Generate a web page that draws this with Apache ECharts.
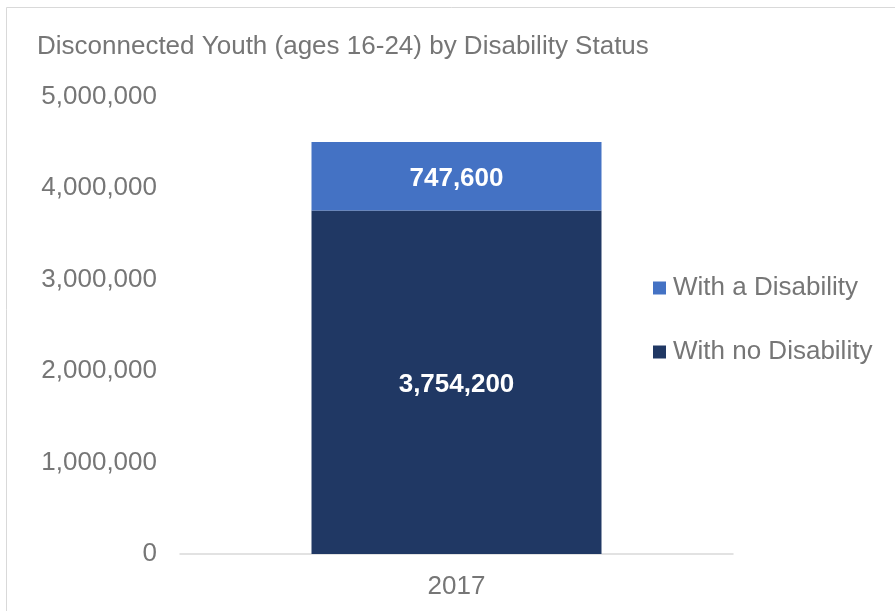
<!DOCTYPE html>
<html>
<head>
<meta charset="utf-8">
<script src="https://cdn.jsdelivr.net/npm/echarts@6/dist/echarts.min.js"></script>
<style>html,body{margin:0;padding:0;background:#fff}#c{width:895px;height:611px}</style>
</head>
<body>
<div id="c"></div>
<script>
var titleText = "Disconnected Youth (ages 16-24) by Disability Status";
var categories = ["2017"];
var withNoDisability = [3754200];
var withDisability = [747600];
var seriesNames = ["With no Disability", "With a Disability"];

var chart = echarts.init(document.getElementById('c'));
var gray = '#767676';
var font = 'Liberation Sans, Arial, sans-serif';
function fmt(p) { return p.value.toLocaleString('en-US'); }
chart.setOption({
  animation: false,
  backgroundColor: '#fff',
  graphic: [{
    type: 'rect', shape: {x: 6.5, y: 7.5, width: 1000, height: 1000},
    style: {fill: 'none', stroke: '#d9d9d9', lineWidth: 1}, silent: true
  }],
  title: {
    text: titleText, left: 32, top: 29,
    textStyle: {color: gray, fontSize: 26, fontWeight: 'normal', fontFamily: font}
  },
  legend: {
    data: [seriesNames[1], seriesNames[0]],
    orient: 'vertical', left: 653, top: 275, padding: 0,
    itemWidth: 13, itemHeight: 13, itemGap: 38,
    icon: 'rect',
    textStyle: {color: gray, fontSize: 26, fontFamily: font, padding: [0, 0, 0, 2]}
  },
  grid: {left: 180, right: 162, top: 96.5, bottom: 57},
  xAxis: {
    type: 'category', data: categories,
    axisLine: {lineStyle: {color: '#d9d9d9', width: 1.5}},
    axisTick: {show: false},
    axisLabel: {color: gray, fontSize: 26, fontFamily: font, margin: 20}
  },
  yAxis: {
    type: 'value', min: 0, max: 5000000, interval: 1000000,
    axisLine: {show: false}, axisTick: {show: false}, splitLine: {show: false},
    axisLabel: {color: gray, fontSize: 26, fontFamily: font, margin: 23,
      formatter: function (v) { return v.toLocaleString('en-US'); }}
  },
  series: [{
    name: seriesNames[0], type: 'bar', stack: 's', data: withNoDisability,
    barWidth: 290, itemStyle: {color: '#203864'},
    label: {show: true, position: 'inside', offset: [0, 3], color: '#fff', fontSize: 26, fontWeight: 'bold', fontFamily: font, formatter: fmt}
  }, {
    name: seriesNames[1], type: 'bar', stack: 's', data: withDisability,
    barWidth: 290, itemStyle: {color: '#4472C4'},
    label: {show: true, position: 'inside', offset: [0, 3], color: '#fff', fontSize: 26, fontWeight: 'bold', fontFamily: font, formatter: fmt}
  }]
});
</script>
</body>
</html>
